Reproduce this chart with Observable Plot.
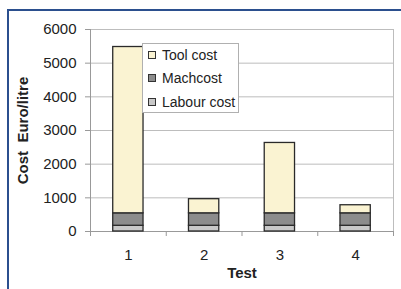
<!DOCTYPE html>
<html>
<head>
<meta charset="utf-8">
<script src="https://cdn.jsdelivr.net/npm/d3@7"></script>
<script src="https://cdn.jsdelivr.net/npm/@observablehq/plot@0.6"></script>
<style>
  html, body { margin: 0; padding: 0; background: #fff; }
  #wrap { position: relative; width: 401px; height: 289px; overflow: hidden; font-family: "Liberation Sans", Arial, sans-serif; }
  #frame { position: absolute; left: 7px; top: 9px; width: 420px; height: 300px; border-top: 2px solid #2b4f8e; border-left: 2px solid #2b4f8e; box-sizing: border-box; pointer-events: none; }
  #legend { position: absolute; left: 142px; top: 43px; width: 97px; height: 70px; box-sizing: border-box; border: 1px solid #b0b0b0; background: #fff; font-size: 14px; color: #222; }
  .item { position: absolute; left: 5px; height: 16px; display: flex; align-items: center; white-space: nowrap; }
  .sw { width: 8px; height: 8px; border: 1px solid #333; box-sizing: border-box; margin-right: 6px; }
</style>
</head>
<body>
<div id="wrap"><div id="frame"></div><div id="legend"></div></div>
<script>
const tests = [1, 2, 3, 4];
const series = ["Labour cost", "Machcost", "Tool cost"];
const labourCost = [170, 170, 170, 170];
const machCost = [370, 370, 370, 370];
const toolCost = [4940, 420, 2090, 240];
const colors = ["#c8c8c8", "#8c8c8c", "#faf3d2"];
const yTicks = [0, 1000, 2000, 3000, 4000, 5000, 6000];
const boundaries = [0.5, 1.5, 2.5, 3.5, 4.5];
const values = [labourCost, machCost, toolCost];

const data = [];
series.forEach((s, si) => tests.forEach((t, ti) => data.push({test: t, series: s, value: values[si][ti]})));

const font = "'Liberation Sans', Arial, sans-serif";
const chart = Plot.plot({
  width: 401, height: 289,
  marginLeft: 90, marginTop: 29, marginRight: 8, marginBottom: 58,
  style: {fontFamily: font, fontSize: "15px", color: "#222", background: "transparent"},
  x: {type: "linear", domain: [0.5, 4.5]},
  y: {domain: [0, 6000]},
  color: {domain: series, range: colors},
  marks: [
    Plot.gridY(yTicks, {stroke: "#bdbdbd", strokeOpacity: 1}),
    Plot.ruleX([4.5], {stroke: "#bdbdbd"}),
    Plot.axisY({ticks: yTicks, tickSize: 5, tickPadding: 9, tickFormat: d => String(d), stroke: "#999", label: null, fontSize: 15, fill: "#222"}),
    Plot.axisX({ticks: boundaries, tickSize: 5, tickFormat: () => "", stroke: "#999", label: null}),
    Plot.axisX({ticks: tests, tickSize: 0, tickPadding: 18, tickFormat: d => String(d), label: null, fontSize: 15, fill: "#222"}),
    Plot.ruleX([0.5], {stroke: "#999"}),
    Plot.ruleY([0], {stroke: "#999"}),
    Plot.rectY(data, Plot.stackY({x1: d => d.test - 0.2, x2: d => d.test + 0.2, y: "value", fill: "series", stroke: "#2a2a2a", strokeWidth: 1.3, order: null})),
    Plot.text(["Cost \u00a0Euro/litre"], {frameAnchor: "left", dx: -67, rotate: -90, textAnchor: "middle", lineAnchor: "middle", fontWeight: "bold", fontSize: 15, fill: "#222"}),
    Plot.text(["Test"], {frameAnchor: "bottom", dy: 42, textAnchor: "middle", lineAnchor: "middle", fontWeight: "bold", fontSize: 15, fill: "#222"})
  ]
});
const wrap = document.getElementById("wrap");
chart.style.position = "absolute";
chart.style.left = "0"; chart.style.top = "0";
wrap.insertBefore(chart, wrap.firstChild);

const legend = document.getElementById("legend");
const legendOrder = ["Tool cost", "Machcost", "Labour cost"];
const rowTops = [3, 26, 50];
legendOrder.forEach((s, i) => {
  const it = document.createElement("div");
  it.className = "item";
  it.style.top = rowTops[i] + "px";
  const sw = document.createElement("span");
  sw.className = "sw";
  sw.style.background = colors[series.indexOf(s)];
  const tx = document.createElement("span");
  tx.textContent = s;
  it.appendChild(sw); it.appendChild(tx);
  legend.appendChild(it);
});
</script>
</body>
</html>
